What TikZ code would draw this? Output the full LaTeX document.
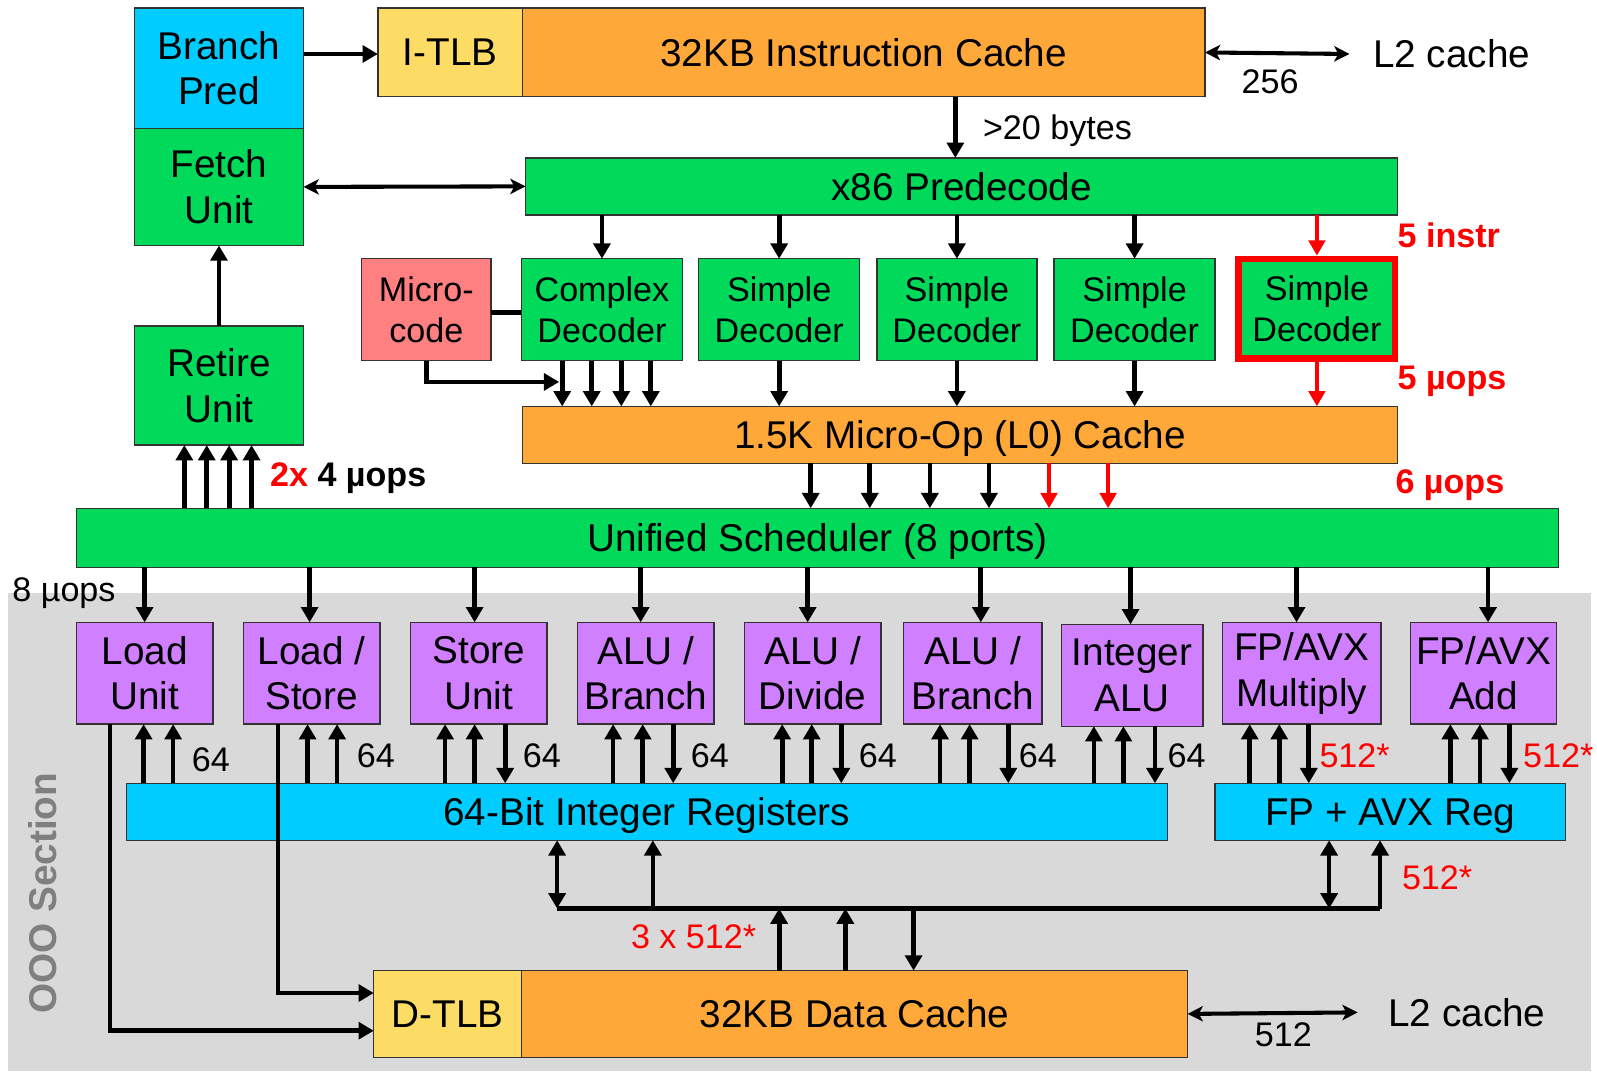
\documentclass[tikz,border=0pt]{standalone}
\usepackage{fontspec}
\setmainfont{Liberation Sans}
\usetikzlibrary{arrows.meta}
\definecolor{cy}{HTML}{00CCFF}
\definecolor{gr}{HTML}{00D95A}
\definecolor{org}{HTML}{FFA83A}
\definecolor{yel}{HTML}{FCDC64}
\definecolor{pnk}{HTML}{FF8080}
\definecolor{pur}{HTML}{D080FF}
\definecolor{gry}{HTML}{D9D9D9}
\definecolor{dgry}{HTML}{7F7F7F}
\newcommand\fbig{\fontsize{38}{45}\selectfont}
\newcommand\fsmall{\fontsize{33.5}{40}\selectfont}
\newcommand\bx[7]{\node[box,#6,minimum width={(#4-#2)*1pt},minimum height={(#5-#3)*1pt}] (#1) at ({(#2+#4)/2},{(#3+#5)/2}) {#7};}
\tikzset{
  box/.style={draw=black!80,line width=1.3pt,inner sep=0pt,outer sep=0pt,align=center,font=\fbig},
  sbox/.style={font=\fsmall},
  nd/.style={text depth=0pt},
  arr/.style={line width=4.6pt,-{Triangle[length=15pt,width=16.5pt]}},
  rarr/.style={line width=4pt,draw=red,-{Triangle[length=15pt,width=16pt]},red},
  darr/.style={line width=4.6pt,{Triangle[length=15pt,width=16.5pt]}-{Triangle[length=15pt,width=16.5pt]}},
  dbl/.style={line width=4pt,{Stealth[length=15pt,width=15pt,inset=4pt]}-{Stealth[length=15pt,width=15pt,inset=4pt]}},
  lbl/.style={font=\fsmall,inner sep=0pt},
  rlbl/.style={font=\fsmall,text=red,inner sep=0pt},
  rblbl/.style={font=\fsmall\bfseries,text=red,inner sep=0pt,anchor=west},
}
\begin{document}
\begin{tikzpicture}[x=1pt,y=-1pt]
\fill[white] (0,0) rectangle (1568,1052);
\useasboundingbox (0,0) rectangle (1568,1052);
% OOO background
\fill[gry] (8,582) rectangle (1562,1052);
\node[rotate=90,font=\fbig\bfseries,text=dgry] (ooo) at (42,877) {OOO Section};
% front end
\bx{bp}{132}{8}{298}{126}{fill=cy}{Branch\\Pred}
\bx{fu}{132}{126}{298}{241}{fill=gr}{Fetch\\Unit}
\bx{ru}{132}{320}{298}{437}{fill=gr}{Retire\\Unit}
\bx{itlb}{371}{8}{513}{95}{fill=yel}{I-TLB}
\bx{ic}{513}{8}{1183}{95}{fill=org}{32KB Instruction Cache}
\bx{pd}{516}{155}{1372}{211}{fill=gr,nd}{x86 Predecode}
\bx{mc}{355}{254}{482}{354}{fill=pnk,sbox}{Micro-\\code}
\bx{cd}{512}{254}{670}{354}{fill=gr,sbox}{Complex\\Decoder}
\bx{sd1}{686}{254}{844}{354}{fill=gr,sbox}{Simple\\Decoder}
\bx{sd2}{861}{254}{1018}{354}{fill=gr,sbox}{Simple\\Decoder}
\bx{sd3}{1035}{254}{1193}{354}{fill=gr,sbox}{Simple\\Decoder}
\bx{sd4}{1216}{254}{1370}{352}{fill=gr,sbox,draw=red,line width=6pt,outer sep=3pt}{Simple\\Decoder}
\bx{uc}{513}{399}{1372}{455}{fill=org,nd}{1.5K Micro-Op (L0) Cache}
\bx{sch}{75}{499}{1530}{557}{fill=gr,nd}{Unified Scheduler (8 ports)}
% execution units
\bx{lu}{75}{611}{209}{711}{fill=pur}{Load\\Unit}
\bx{ls}{239}{611}{373}{711}{fill=pur}{Load /\\Store}
\bx{su}{403}{611}{537}{711}{fill=pur}{Store\\Unit}
\bx{ab1}{567}{611}{701}{711}{fill=pur}{ALU /\\Branch}
\bx{ad}{731}{611}{865}{711}{fill=pur}{ALU /\\Divide}
\bx{ab2}{887}{611}{1023}{711}{fill=pur}{ALU /\\Branch}
\bx{ia}{1042}{613}{1181}{713}{fill=pur}{Integer\\ALU}
\bx{fm}{1200}{611}{1356}{711}{fill=pur}{FP/AVX\\Multiply}
\bx{fa}{1385}{611}{1528}{711}{fill=pur}{FP/AVX\\Add}
\bx{ir}{124}{769}{1146}{825}{fill=cy,nd}{64-Bit Integer Registers}
\bx{fr}{1193}{769}{1537}{825}{fill=cy,nd}{FP + AVX Reg}
\bx{dtlb}{367}{953}{512}{1038}{fill=yel}{D-TLB}
\bx{dc}{512}{953}{1166}{1038}{fill=org}{32KB Data Cache}
% top connectors
\draw[arr] (bp.east |- 0,53) -- (itlb.west |- 0,53);
\coordinate (l2a) at (1325,53);
\draw[dbl] (ic.east) -- (l2a);
\node[font=\fbig,anchor=west,inner sep=0pt] (l2at) at (1348,53) {L2 cache};
\node[lbl] (n256) at (1247,80) {256};
\draw[arr] (938,0 |- ic.south) -- (938,0 |- pd.north);
\node[lbl,anchor=west] (b20) at (965,128) {>20 bytes};
\draw[dbl] (fu.east) -- (pd.west);
\foreach \n in {cd,sd1,sd2,sd3}{\draw[arr] (pd.south -| \n.north) -- (\n.north);}
\draw[rarr] (pd.south -| sd4.north) -- (sd4.north);
\node[rblbl] (i5) at (1372,231) {5 instr};
% decoders to uop cache
\foreach \x in {552,581,610,639}{\draw[arr] (\x,0 |- cd.south) -- (\x,0 |- uc.north);}
\foreach \n in {sd1,sd2,sd3}{\draw[arr] (\n.south) -- (\n.south |- uc.north);}
\draw[rarr] (sd4.south) -- (sd4.south |- uc.north);
\node[rblbl] (u5) at (1372,374) {5 µops};
\draw[line width=4.6pt] (mc.east |- 0,307) -- (cd.west |- 0,307);
\coordinate (mcend) at (549,375);
\draw[arr] (mc.south) |- (mcend);
% uop cache to scheduler
\foreach \x in {796,854,913,971}{\draw[arr] (\x,0 |- uc.south) -- (\x,0 |- sch.north);}
\foreach \x in {1030,1088}{\draw[rarr] (\x,0 |- uc.south) -- (\x,0 |- sch.north);}
\node[rblbl] (u6) at (1370,476) {6 µops};
% retire
\foreach \x in {181,203,225,247}{\draw[arr] (\x,0 |- sch.north) -- (\x,0 |- ru.south);}
\draw[arr] (ru.north) -- (fu.south);
\node[font=\fsmall\bfseries,anchor=west,inner sep=0pt] (r4) at (265,469) {\textcolor{red}{2x} 4 µops};
\node[lbl,anchor=west] (u8) at (12,582) {8 µops};
% scheduler to units
\foreach \x/\n in {142/lu,304/ls,466/su,629/ab1,793/ad,963/ab2,1110/ia,1273/fm,1461/fa}{\draw[arr] (\x,0 |- sch.south) -- (\x,0 |- \n.north);}
% units <-> registers
\foreach \a/\b/\n in {141/170/lu,302/331/ls,437/466/su,602/631/ab1,768/797/ad,923/952/ab2,1074/1103/ia}{
  \draw[arr] (\a,0 |- ir.north) -- (\a,0 |- \n.south);
  \draw[arr] (\b,0 |- ir.north) -- (\b,0 |- \n.south);}
\foreach \c/\n in {496/su,661/ab1,826/ad,990/ab2,1134/ia}{\draw[arr] (\c,0 |- \n.south) -- (\c,0 |- ir.north);}
\foreach \a/\b/\c/\n in {1227/1256/1285/fm,1424/1453/1482/fa}{
  \draw[arr] (\a,0 |- fr.north) -- (\a,0 |- \n.south);
  \draw[arr] (\b,0 |- fr.north) -- (\b,0 |- \n.south);
  \draw[arr] (\c,0 |- \n.south) -- (\c,0 |- fr.north);}
\node[lbl] (l1) at (207,746) {64};
\foreach \x in {369,532,697,862,1019,1165}{\node[lbl] at (\x,742) {64};}
\node[rlbl] (r1) at (1330,742) {512*};
\node[rlbl] (r2) at (1530,742) {512*};
% load paths to D-TLB
\draw[arr] (108,0 |- lu.south) |- (dtlb.west |- 0,1012);
\draw[arr] (273,0 |- ls.south) |- (dtlb.west |- 0,975);
% bus
\coordinate (busL) at (547,892);
\coordinate (busR) at (1355,892);
\draw[line width=4.6pt] (busL) -- (busR);
\draw[darr] (busL) -- (busL |- ir.south);
\draw[arr] (641,0 |- busL) -- (641,0 |- ir.south);
\draw[darr] (1305,0 |- busL) -- (1305,0 |- fr.south);
\draw[arr] (busR) -- (busR |- fr.south);
\node[rlbl] (r3) at (1411,862) {512*};
\draw[arr] (765,0 |- dc.north) -- (765,0 |- busL);
\draw[arr] (830,0 |- dc.north) -- (830,0 |- busL);
\draw[arr] (897,0 |- busL) -- (897,0 |- dc.north);
\node[rlbl] (r4b) at (681,920) {3 x 512*};
% data cache to L2
\coordinate (l2b) at (1333,994);
\draw[dbl] (dc.east) -- (l2b);
\node[lbl] (n512) at (1260,1016) {512};
\node[font=\fbig,anchor=west,inner sep=0pt] (l2bt) at (1363,994) {L2 cache};
\end{tikzpicture}
\end{document}
